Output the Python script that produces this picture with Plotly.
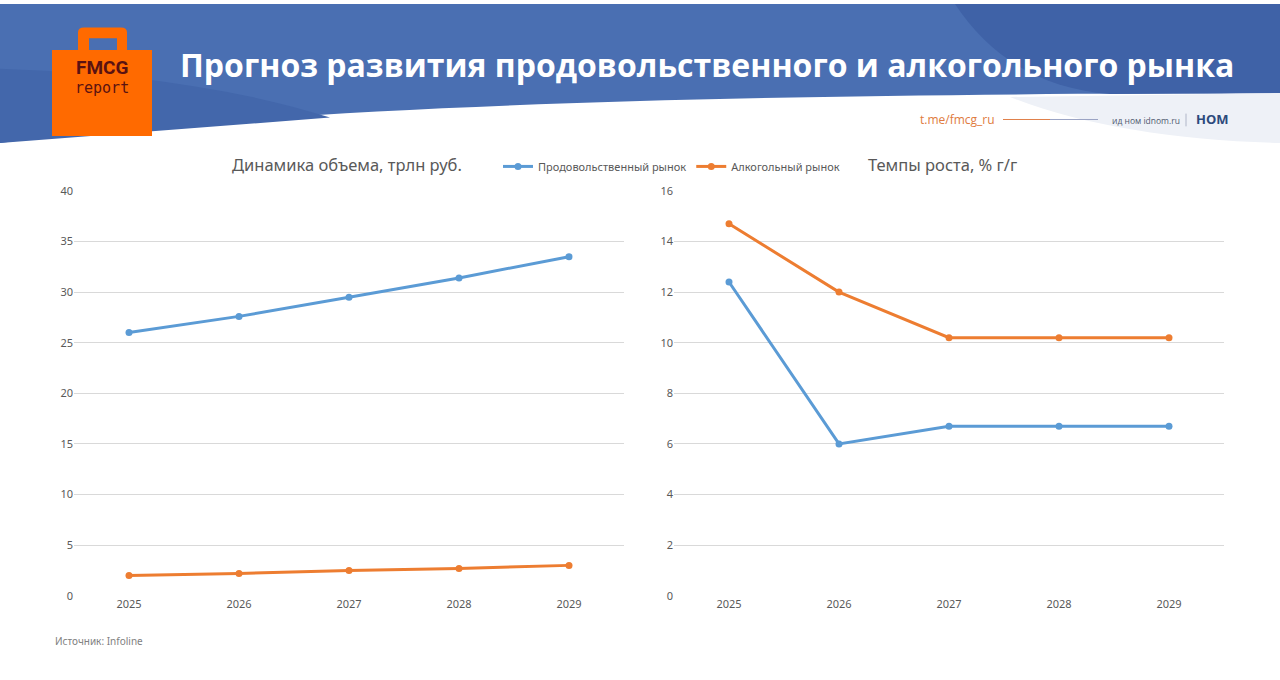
import plotly.graph_objects as go

years = ["2025", "2026", "2027", "2028", "2029"]
food_volume = [26.0, 27.6, 29.5, 31.4, 33.5]
alco_volume = [2.0, 2.2, 2.5, 2.7, 3.0]
food_growth = [12.4, 6.0, 6.7, 6.7, 6.7]
alco_growth = [14.7, 12.0, 10.2, 10.2, 10.2]

series_names = ["Продовольственный рынок", "Алкогольный рынок"]
left_title = "Динамика объема, трлн руб."
right_title = "Темпы роста, % г/г"
main_title = "Прогноз развития продовольственного и алкогольного рынка"
source_text = "Источник: Infoline"

BLUE = "#5b9bd5"
ORANGE = "#ed7d31"
HEADER = "#4a6fb2"
W, H = 1280, 680


def px(x):
    return x / W


def py(y):
    return 1 - y / H


fig = go.Figure()

fig.add_trace(go.Scatter(x=years, y=food_volume, name=series_names[0], mode="lines+markers",
                         line=dict(color=BLUE, width=3), marker=dict(size=7, color=BLUE),
                         xaxis="x", yaxis="y", legendgroup="f"))
fig.add_trace(go.Scatter(x=years, y=alco_volume, name=series_names[1], mode="lines+markers",
                         line=dict(color=ORANGE, width=3), marker=dict(size=7, color=ORANGE),
                         xaxis="x", yaxis="y", legendgroup="a"))
fig.add_trace(go.Scatter(x=years, y=food_growth, name=series_names[0], mode="lines+markers",
                         line=dict(color=BLUE, width=3), marker=dict(size=7, color=BLUE),
                         xaxis="x2", yaxis="y2", legendgroup="f", showlegend=False))
fig.add_trace(go.Scatter(x=years, y=alco_growth, name=series_names[1], mode="lines+markers",
                         line=dict(color=ORANGE, width=3), marker=dict(size=7, color=ORANGE),
                         xaxis="x2", yaxis="y2", legendgroup="a", showlegend=False))

ydom = [py(601), py(187)]
tickfont = dict(family="Noto Sans", size=11, color="#595959")
common_x = dict(showgrid=False, zeroline=False, showline=False, ticks="", tickfont=tickfont,
                type="category", fixedrange=True, range=[-0.5, 4.5])
common_y = dict(showgrid=True, gridcolor="#d9d9d9", gridwidth=1, zeroline=False, showline=False,
                ticks="", tickfont=tickfont, fixedrange=True)


def P(cmds):
    out = []
    for c in cmds:
        if isinstance(c, str):
            out.append(c)
        else:
            out.append(f"{px(c[0]):.5f},{py(c[1]):.5f}")
    return " ".join(out)


shapes = [
    dict(type="path", xref="paper", yref="paper", layer="below", line=dict(width=0),
         fillcolor=HEADER,
         path=P(["M", (0, -4), "L", (1280, -4), "L", (1280, 87), "C", (700, 88), (300, 100), (0, 138), "Z"])),
    dict(type="path", xref="paper", yref="paper", layer="below", line=dict(width=0),
         fillcolor="#4367ab",
         path=P(["M", (0, 62), "C", (120, 66), (230, 80), (330, 112), "L", (0, 138), "Z"])),
    dict(type="path", xref="paper", yref="paper", layer="below", line=dict(width=0),
         fillcolor="#3f62a7",
         path=P(["M", (955, -4), "C", (990, 50), (1040, 82), (1110, 88), "L", (1280, 87), "L", (1280, -4), "Z"])),
    dict(type="path", xref="paper", yref="paper", layer="below", line=dict(width=0),
         fillcolor="#eef1f7",
         path=P(["M", (1010, 91), "C", (1080, 120), (1180, 136), (1280, 138), "L", (1280, 87), "Z"])),
    # bag handle
    dict(type="path", xref="paper", yref="paper", layer="below", line=dict(width=0),
         fillcolor="#ff6a00",
         path=P(["M", (78, 44), "L", (78, 25), "Q", (78, 20), (84, 20), "L", (121, 20), "Q", (127, 20), (127, 25),
                 "L", (127, 44), "L", (117, 44), "L", (117, 31), "L", (89, 31), "L", (89, 44), "Z"])),
    # bag body
    dict(type="rect", xref="paper", yref="paper", layer="below", line=dict(width=0),
         fillcolor="#ff6a00", x0=px(52), x1=px(152), y0=py(131), y1=py(43)),
    # link line
    dict(type="line", xref="paper", yref="paper", x0=px(1003), x1=px(1050), y0=py(114), y1=py(114),
         line=dict(color="#e0804a", width=1)),
    dict(type="line", xref="paper", yref="paper", x0=px(1050), x1=px(1098), y0=py(114), y1=py(114),
         line=dict(color="#9aa3c4", width=1)),
    dict(type="line", xref="paper", yref="paper", x0=px(1186), x1=px(1186), y0=py(108), y1=py(121),
         line=dict(color="#b0b6c8", width=1)),
]

annotations = [
    dict(text="<b>FMCG</b>", x=px(102), y=py(61), xref="paper", yref="paper", showarrow=False,
         font=dict(family="Roboto", size=19, color="#5a1212"), xanchor="center", yanchor="middle"),
    dict(text="report", x=px(102), y=py(82), xref="paper", yref="paper", showarrow=False,
         font=dict(family="DejaVu Sans Mono", size=15, color="#5a1212"), xanchor="center", yanchor="middle"),
    dict(text="<b>" + main_title + "</b>", x=px(178), y=py(58), xref="paper", yref="paper", showarrow=False,
         font=dict(family="Open Sans", size=32, color="white"), xanchor="left", yanchor="middle"),
    dict(text="t.me/fmcg_ru", x=px(918), y=py(114), xref="paper", yref="paper", showarrow=False,
         font=dict(family="Open Sans", size=12, color="#e07b40"), xanchor="left", yanchor="middle"),
    dict(text="ид ном idnom.ru", x=px(1110), y=py(115), xref="paper", yref="paper", showarrow=False,
         font=dict(family="Open Sans", size=8.5, color="#505a70"), xanchor="left", yanchor="middle"),
    dict(text="<b>НОМ</b>", x=px(1194), y=py(114), xref="paper", yref="paper", showarrow=False,
         font=dict(family="Open Sans", size=13, color="#2c4a7c"), xanchor="left", yanchor="middle"),
    dict(text=left_title, x=px(230), y=py(160), xref="paper", yref="paper", showarrow=False,
         font=dict(family="Noto Sans", size=16.5, color="#595959"), xanchor="left", yanchor="middle"),
    dict(text=right_title, x=px(866), y=py(160), xref="paper", yref="paper", showarrow=False,
         font=dict(family="Noto Sans", size=16.5, color="#595959"), xanchor="left", yanchor="middle"),
    dict(text=source_text, x=px(53), y=py(647), xref="paper", yref="paper", showarrow=False,
         font=dict(family="Noto Sans", size=10, color="#7f7f7f"), xanchor="left", yanchor="middle"),
]

fig.update_layout(
    width=W, height=H, margin=dict(l=0, r=0, t=0, b=0, pad=0),
    paper_bgcolor="white", plot_bgcolor="rgba(0,0,0,0)",
    xaxis=dict(domain=[px(74), px(624)], anchor="y", **common_x),
    yaxis=dict(domain=ydom, range=[0, 40], dtick=5, anchor="x", **common_y),
    xaxis2=dict(domain=[px(674), px(1224)], anchor="y2", **common_x),
    yaxis2=dict(domain=ydom, range=[0, 16], dtick=2, anchor="x2", **common_y),
    legend=dict(orientation="h", x=px(498), y=py(162), xanchor="left", yanchor="middle",
                font=dict(family="Noto Sans", size=11, color="#595959"), itemwidth=30,
                bgcolor="rgba(0,0,0,0)", tracegroupgap=0),
    shapes=shapes, annotations=annotations, showlegend=True,
)

post = ("document.documentElement.style.overflow='hidden';"
        "document.body.style.margin='0';document.body.style.padding='0';"
        "document.body.style.overflow='hidden';"
        "var d=document.getElementById('{plot_id}');"
        "d.style.position='fixed';d.style.left='0px';d.style.top='0px';")

fig.write_html("out.html", post_script=post, config=dict(displayModeBar=False))
